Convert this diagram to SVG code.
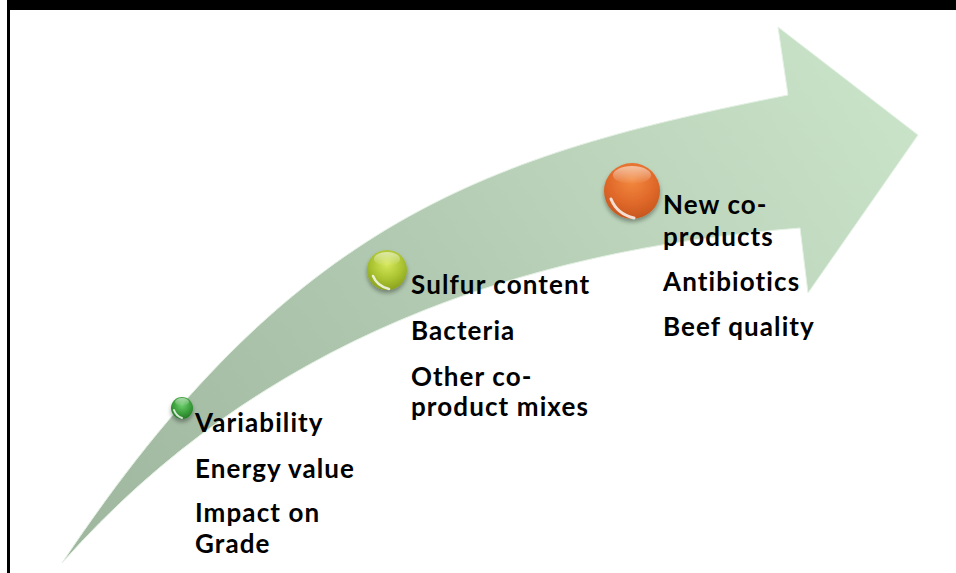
<svg xmlns="http://www.w3.org/2000/svg" width="956" height="573" viewBox="0 0 956 573">
  <defs>
    <style>
      .lbl { font-family: Lato, "Open Sans", "DejaVu Sans", sans-serif; font-weight: 700; font-size: 26px; letter-spacing: 1.1px; fill: #000000; }
    </style>
    <linearGradient id="bandFill" gradientUnits="userSpaceOnUse" x1="80" y1="560" x2="860" y2="40">
      <stop offset="0" stop-color="#9fb69f"/>
      <stop offset="0.5" stop-color="#b3cbb2"/>
      <stop offset="1" stop-color="#c9e3c9"/>
    </linearGradient>
    <radialGradient id="ballGreen" cx="0.5" cy="0.35" r="0.65">
      <stop offset="0" stop-color="#6fcf6f"/>
      <stop offset="0.6" stop-color="#3b9f3b"/>
      <stop offset="1" stop-color="#267a26"/>
    </radialGradient>
    <radialGradient id="ballYellow" cx="0.5" cy="0.35" r="0.65">
      <stop offset="0" stop-color="#d6e85a"/>
      <stop offset="0.6" stop-color="#aac330"/>
      <stop offset="1" stop-color="#8aa21e"/>
    </radialGradient>
    <radialGradient id="ballOrange" cx="0.5" cy="0.3" r="0.7">
      <stop offset="0" stop-color="#f3893f"/>
      <stop offset="0.6" stop-color="#e0692a"/>
      <stop offset="1" stop-color="#c7561d"/>
    </radialGradient>
    <linearGradient id="gloss" x1="0" y1="0" x2="0" y2="1">
      <stop offset="0" stop-color="#ffffff" stop-opacity="0.55"/>
      <stop offset="1" stop-color="#ffffff" stop-opacity="0"/>
    </linearGradient>
    <filter id="ballShadow" x="-50%" y="-50%" width="200%" height="200%">
      <feDropShadow dx="0" dy="3" stdDeviation="2" flood-color="#000000" flood-opacity="0.35"/>
    </filter>
  </defs>

  <!-- page frame -->
  <rect x="0" y="0" width="956" height="573" fill="#ffffff"/>
  <rect x="7" y="0" width="949" height="10" fill="#000000"/>
  <rect x="7" y="0" width="3" height="573" fill="#000000"/>

  <!-- curved progress arrow -->
  <g id="connectors">
    <path id="arrow" d="M62,563 C292,218 488,155 788,95 L778,27 L918,135 L808,293 L800,228 C520,250 260,340 62,563 Z"
          fill="url(#bandFill)" stroke="#e4f1e4" stroke-width="1" stroke-linejoin="miter"/>
  </g>

  <!-- stage 1 -->
  <g id="stage1">
    <g filter="url(#ballShadow)">
      <circle cx="182" cy="408" r="11" fill="url(#ballGreen)"/>
    </g>
    <ellipse cx="182" cy="402" rx="7" ry="4" fill="url(#gloss)"/>
    <path d="M174,410 Q176,416 182,418" fill="none" stroke="#ffffff" stroke-opacity="0.8" stroke-width="2" stroke-linecap="round"/>
    <text class="lbl" x="195" y="432">Variability</text>
    <text class="lbl" x="195" y="478">Energy value</text>
    <text class="lbl" x="195" y="522">Impact on</text>
    <text class="lbl" x="195" y="553">Grade</text>
  </g>

  <!-- stage 2 -->
  <g id="stage2">
    <g filter="url(#ballShadow)">
      <circle cx="387" cy="270" r="20" fill="url(#ballYellow)"/>
    </g>
    <ellipse cx="387" cy="259" rx="13" ry="7" fill="url(#gloss)"/>
    <path d="M373,276 Q377,286 389,289" fill="none" stroke="#ffffff" stroke-opacity="0.8" stroke-width="2.5" stroke-linecap="round"/>
    <text class="lbl" x="411" y="294">Sulfur content</text>
    <text class="lbl" x="411" y="340">Bacteria</text>
    <text class="lbl" x="411" y="386">Other co-</text>
    <text class="lbl" x="411" y="416">product mixes</text>
  </g>

  <!-- stage 3 -->
  <g id="stage3">
    <g filter="url(#ballShadow)">
      <circle cx="632" cy="191" r="28" fill="url(#ballOrange)"/>
    </g>
    <ellipse cx="632" cy="175" rx="19" ry="9" fill="url(#gloss)"/>
    <path d="M611,199 Q617,214 634,218" fill="none" stroke="#ffffff" stroke-opacity="0.8" stroke-width="3" stroke-linecap="round"/>
    <text class="lbl" x="663" y="214">New co-</text>
    <text class="lbl" x="663" y="246">products</text>
    <text class="lbl" x="663" y="291">Antibiotics</text>
    <text class="lbl" x="663" y="336">Beef quality</text>
  </g>
</svg>
